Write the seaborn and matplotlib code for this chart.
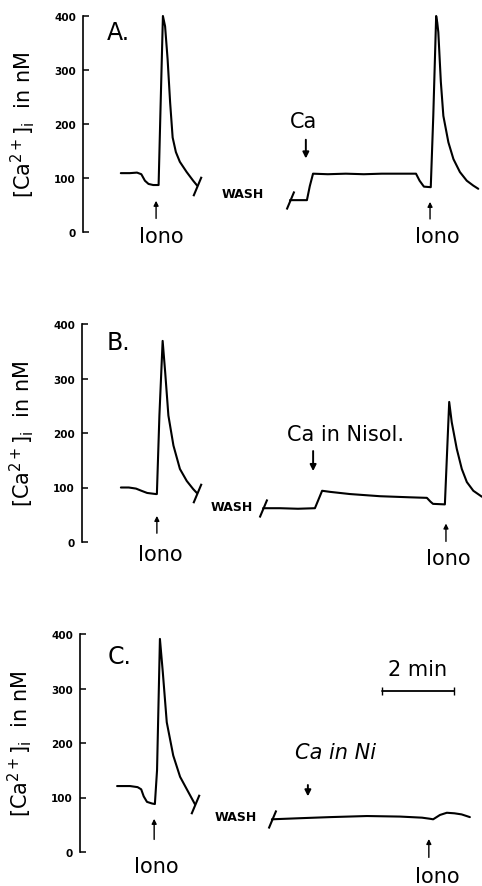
import numpy as np
import pandas as pd
import matplotlib
matplotlib.use("Agg")
import matplotlib.pyplot as plt
from matplotlib.path import Path
import seaborn as sns

sns.set_style("white")
plt.rcParams['font.family'] = ['DejaVu Sans']
plt.rcParams['text.color'] = 'black'
plt.rcParams['axes.labelcolor'] = 'black'
plt.rcParams['ytick.color'] = 'black'
plt.rcParams['mathtext.default'] = 'regular'

# ---------------- data (time in min, [Ca2+]i in nM) ----------------
# Panel A
a_pre_t = [1.05, 1.3, 1.5, 1.62, 1.72, 1.82, 1.95, 2.1, 2.15, 2.22, 2.28, 2.35, 2.42, 2.49, 2.58, 2.69, 2.88, 3.06, 3.17]
a_pre_v = [109, 109, 110, 107, 95, 89, 87, 87, 220, 400, 381, 320, 240, 175, 148, 130, 111, 95, 86]
a_post_t = [5.75, 6.22, 6.30, 6.39, 6.8, 7.3, 7.8, 8.3, 8.8, 9.25, 9.35, 9.47, 9.66, 9.73, 9.81, 9.84, 9.87, 9.94, 10.01, 10.15, 10.29, 10.47, 10.66, 10.84, 10.98]
a_post_v = [59, 59, 85, 108, 107, 108, 107, 108, 108, 108, 95, 84, 83, 215, 400, 388, 370, 278, 215, 166, 135, 111, 95, 86, 80]

# Panel B
b_pre_t = [1.08, 1.3, 1.5, 1.65, 1.81, 2.05, 2.08, 2.15, 2.24, 2.31, 2.40, 2.54, 2.72, 2.91, 3.09, 3.19]
b_pre_v = [100, 100, 98, 94, 90, 88, 88, 232, 369, 312, 232, 177, 134, 112, 97, 90]
b_post_t = [5.03, 5.5, 6.0, 6.47, 6.67, 6.89, 7.44, 8.28, 9.11, 9.58, 9.68, 9.75, 10.08, 10.20, 10.27, 10.41, 10.55, 10.69, 10.87, 11.11]
b_post_v = [62, 62, 61, 62, 94, 92, 88, 84, 82, 81, 74, 70, 69, 257, 220, 171, 134, 110, 94, 83]

# Panel C
c_pre_t = [1.03, 1.39, 1.6, 1.7, 1.77, 1.86, 2.0, 2.08, 2.14, 2.19, 2.22, 2.30, 2.41, 2.59, 2.78, 2.96, 3.19]
c_pre_v = [121, 121, 119, 115, 102, 92, 89, 88, 150, 300, 391, 330, 238, 177, 138, 116, 88]
c_post_t = [5.33, 6.11, 6.94, 7.97, 8.89, 9.5, 9.72, 9.81, 10.0, 10.19, 10.4, 10.6, 10.83]
c_post_v = [60, 62, 64, 66, 65, 63, 61, 60, 68, 72, 71, 69, 64]

yticks = [0, 100, 200, 300, 400]
panel_labels = ["A.", "B.", "C."]
ylabel = r"[Ca$^{2+}$]$_{i}$  in nM"

# event annotations
iono_left = [2.03, 2.08, 2.06]
iono_right = [9.64, 10.11, 9.69]
ca_events = [6.19, 6.42, 6.33]
ca_texts = ["Ca", "Ca in Nisol.", "Ca in Ni"]
scale_len_min = 2

# ---------------- layout ----------------
W, H = 482, 887
fig = plt.figure(figsize=(W / 100, H / 100), dpi=100)
px_per_min = 36.0
axis_x = [83, 82, 80]
axis_y0 = [233, 543, 853]
axis_y400 = [17, 325, 635]

segments = [
    (a_pre_t, a_pre_v, a_post_t, a_post_v),
    (b_pre_t, b_pre_v, b_post_t, b_post_v),
    (c_pre_t, c_pre_v, c_post_t, c_post_v),
]

slash = Path([(-0.42, -1.0), (0.42, 1.0)], [Path.MOVETO, Path.LINETO])

lab_pos = [(0.67, 370), (0.69, 367), (0.78, 360)]
wash_pos = [(3.86, 72), (3.56, 66), (3.75, 66)]
ionoL_txt = [(2.17, -7), (2.17, -22), (2.11, -26)]
ionoL_arrow = [(63, 20), (53, 11), (66, 18)]
ionoR_txt = [(9.83, -7), (10.17, -29), (9.92, -44)]
ionoR_arrow = [(61, 19), (39, -4), (29, -15)]
ca_txt_pos = [(5.75, 206), (5.69, 198), (5.97, 183)]
ca_arrow = [(131, 176), (125, 172), (97, 128)]

for i in range(3):
    left = axis_x[i] / W
    bottom = 1 - axis_y0[i] / H
    height = (axis_y0[i] - axis_y400[i]) / H
    width = (W - axis_x[i]) / W
    ax = fig.add_axes([left, bottom, width, height])
    pre_t, pre_v, post_t, post_v = segments[i]
    df_pre = pd.DataFrame({"t": pre_t, "v": pre_v})
    df_post = pd.DataFrame({"t": post_t, "v": post_v})
    sns.lineplot(data=df_pre, x="t", y="v", ax=ax, color="black", lw=1.5, estimator=None)
    sns.lineplot(data=df_post, x="t", y="v", ax=ax, color="black", lw=1.5, estimator=None)
    ax.plot([pre_t[-1]], [pre_v[-1]], marker=slash, ms=14, mew=1.5, color="black", ls="none")
    ax.plot([post_t[0]], [post_v[0]], marker=slash, ms=13, mew=1.5, color="black", ls="none")
    for ln in ax.lines:
        ln.set_clip_on(False)

    ax.set_xlim(0, (W - axis_x[i]) / px_per_min)
    ax.set_ylim(0, 400)
    ax.set_yticks(yticks)
    ax.set_yticklabels([str(y) for y in yticks], fontsize=7.5, fontweight="bold")
    ax.tick_params(axis="y", direction="in", length=4, width=1.1, pad=5, left=True, colors="black")
    ax.set_xticks([])
    ax.set_xlabel("")
    for s in ["top", "right", "bottom"]:
        ax.spines[s].set_visible(False)
    ax.spines["left"].set_linewidth(1.2)
    ax.spines["left"].set_color("black")
    ax.set_ylabel(ylabel, fontsize=15, color="black")
    ax.yaxis.set_label_coords(-0.115, 0.5)
    ax.patch.set_alpha(0)

    ax.text(lab_pos[i][0], lab_pos[i][1], panel_labels[i], fontsize=17, ha="left", va="center")
    ax.text(wash_pos[i][0], wash_pos[i][1], "WASH", fontsize=9, fontweight="bold", ha="left", va="center")

    ax.annotate("", xy=(iono_left[i], ionoL_arrow[i][0]), xytext=(iono_left[i], ionoL_arrow[i][1]),
                arrowprops=dict(arrowstyle="-|>", lw=1.0, color="black", mutation_scale=7),
                annotation_clip=False)
    ax.text(ionoL_txt[i][0], ionoL_txt[i][1], "Iono", fontsize=15, ha="center", va="center", clip_on=False)
    ax.annotate("", xy=(iono_right[i], ionoR_arrow[i][0]), xytext=(iono_right[i], ionoR_arrow[i][1]),
                arrowprops=dict(arrowstyle="-|>", lw=1.0, color="black", mutation_scale=7),
                annotation_clip=False)
    ax.text(ionoR_txt[i][0], ionoR_txt[i][1], "Iono", fontsize=15, ha="center", va="center", clip_on=False)

    ax.annotate("", xy=(ca_events[i], ca_arrow[i][0]), xytext=(ca_events[i], ca_arrow[i][1]),
                arrowprops=dict(arrowstyle="-|>", lw=1.4, color="black", mutation_scale=9),
                annotation_clip=False)
    ax.text(ca_txt_pos[i][0], ca_txt_pos[i][1], ca_texts[i], fontsize=15, ha="left", va="center",
            style="italic" if i == 2 else "normal")

    if i == 2:
        x0 = 8.39
        ax.plot([x0, x0 + scale_len_min], [295, 295], color="black", lw=1.3, clip_on=False)
        ax.plot([x0, x0 + scale_len_min], [295, 295], color="black", ls="none", marker="|", ms=6, mew=1.0)
        ax.text(x0 + scale_len_min / 2, 336, "2 min", fontsize=15, ha="center", va="center")

fig.savefig("out.png", dpi=100)
